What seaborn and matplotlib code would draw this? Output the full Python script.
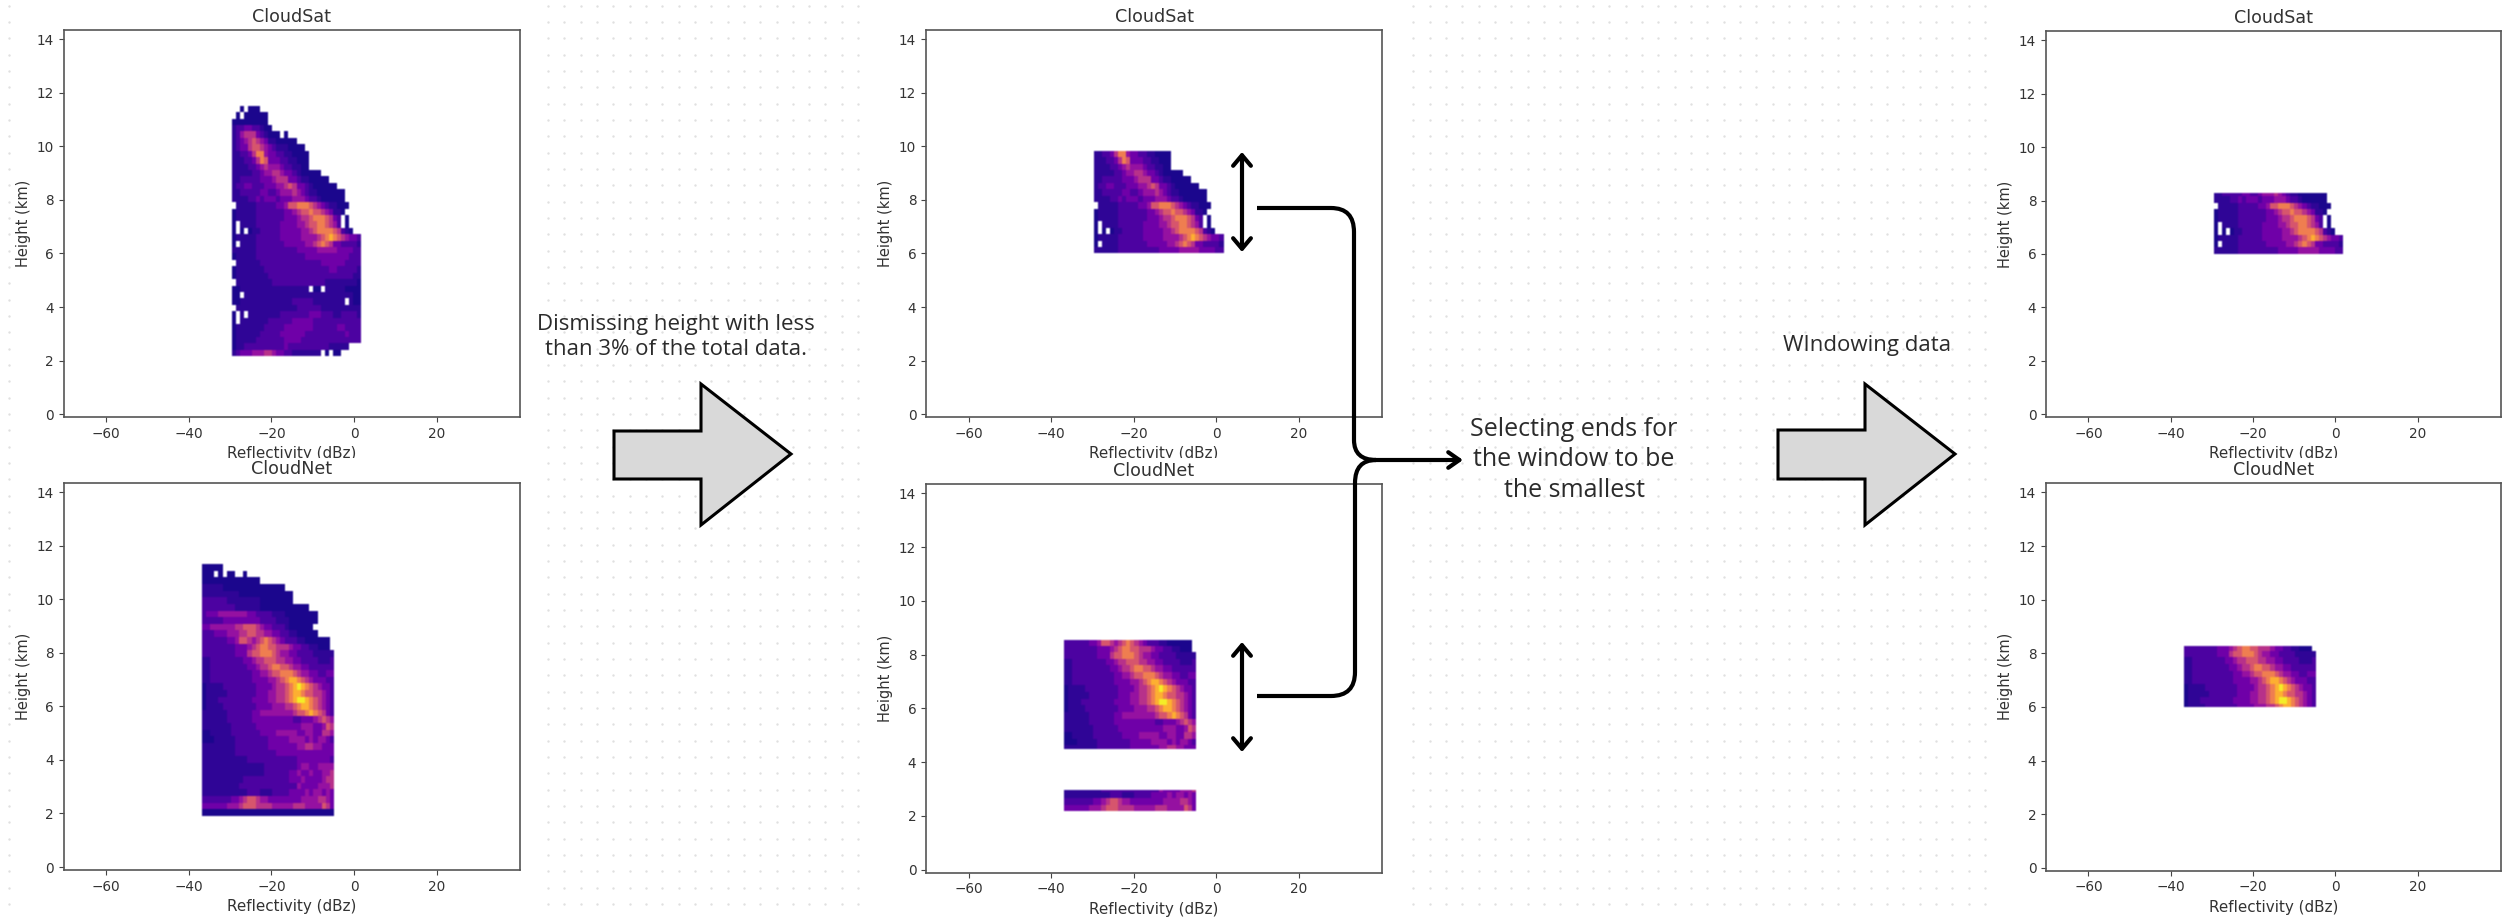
import numpy as np
import pandas as pd
import matplotlib
matplotlib.use("Agg")
import matplotlib.pyplot as plt
import seaborn as sns
from matplotlib.patches import PathPatch, Polygon, FancyArrowPatch, Rectangle
from matplotlib.path import Path
from matplotlib.transforms import Bbox

# Levels, top row first, one digit per 1 dBZ cell ('.' = empty)
cloudsat_rows = [
    "..0.000",
    ".0.000000",
    "000000000",
    "1223322100",
    "124555321000.0",
    "1234565431100000",
    "123356654321110000",
    "1122357743322110000",
    "1112235763332211000",
    "1111223454443221100",
    "1111122344554332100000",
    "112222233345553321100000",
    "12233222333445653321000000",
    "1122222332234445432110000000",
    "1111223233323334443221000000",
    ".1111122222334667776543211000",
    "0111112222222334566766543110.",
    "011111222222233345567776532.0",
    "0.1111222222333344566776542.0",
    "0.0.01122222333334456777765210",
    "01111122222233333444456787654332",
    "0.111122222223333344567653322221",
    "11111122222222223333344444333322",
    "01111122222222222233333333333222",
    ".1111112222222222222223333332222",
    "01111111222222222222222233222221",
    "01111111122222222222222222222211",
    ".1111111112222222222222111111110",
    "0011111111111111111.00.111110000",
    "00.11111111111111111111111111100",
    "0011111111111112222211111111.100",
    ".1111111111111112222221111111111",
    "0.1.1111111122222223332221122221",
    "0.111111122222233333222222222222",
    "01111111222223333333222222332222",
    "01111112222233333322222222223222",
    "01111122222223333222222222222222",
    "01122222222223222222222211111",
    "1233344455433221111111.0.00",
]
cloudnet_rows = [
    "00000",
    "000.0.00..0",
    "00000000000000",
    "11111000000000000000",
    "1111111110000000000000",
    "2222221111111100000000",
    "22222222111111000000000000",
    "2333444444433222211100000000",
    "2222233333333322221110000000",
    "334444445566654332221000000",
    "2223334445566554433221100000",
    "2222223346654567654322211000000",
    "2222222233345677665554332211000",
    "22222222333566777654433222211111",
    "11222222223345566655443322221112",
    "11222222222334556776654433222222",
    "11222222222233445667776544332233",
    "11222222222233334456788765433322",
    "01111222222223333455678987654332",
    "01111122222223334455678876655432",
    "01112222222233334455678998765432",
    "01111222222223333444556788765432",
    "11111122222233444444445667876532",
    "11111122222233333333332233345654",
    "11111112222223333333333344433465",
    "00111112222222333344444334433554",
    "00011111222222223333344443434432",
    "11111111222222223333333445544333",
    "11111111222222222233333333333333",
    "11111111111222222222222333333332",
    "11111111111111122222222344334444",
    "11111111111111122222233433433445",
    "11111111112222222222233343333455",
    "11111111122222222222222433334445",
    "11111111111222111222233334344343",
    "22222223345665443333333344445543",
    "33333344456665555444445554444653",
    "00000000000000000000000000000000",
]
cloudsat_x_range = (-29.6, 1.8)
cloudnet_x_range = (-36.8, -4.8)
cloudsat_y_range = (2.16, 11.52)
cloudnet_y_range = (1.91, 11.31)

# Height windows kept at each step
cloudsat_windows = [[(2.16, 11.52)], [(6.0, 9.84)], [(6.0, 8.28)]]
cloudnet_windows = [[(1.91, 11.31)], [(4.49, 8.53), (2.18, 2.96)], [(6.0, 8.26)]]

x_ticks = [-60, -40, -20, 0, 20]
y_ticks = [0, 2, 4, 6, 8, 10, 12, 14]

W, H = 2504, 919
sns.set_style("ticks")
plt.rcParams["font.family"] = "DejaVu Sans"
plt.rcParams["text.color"] = "#333333"
plt.rcParams["axes.labelcolor"] = "#333333"
plt.rcParams["xtick.labelcolor"] = "#333333"
plt.rcParams["ytick.labelcolor"] = "#333333"


def soften(img, dpi):
    # the reference is a blurry screenshot, so smooth the cells a little
    img = np.pad(img, ((1, 1), (1, 1), (0, 0)))
    rgb, a = img[..., :3] * img[..., 3:], img[..., 3:]
    for axis in (0, 1):
        rgb = (np.roll(rgb, 1, axis) + 2 * rgb + np.roll(rgb, -1, axis)) / 4
        a = (np.roll(a, 1, axis) + 2 * a + np.roll(a, -1, axis)) / 4
    return np.dstack([rgb / np.maximum(a, 1e-3), a]), -1, -1


def to_frame(rows, x_range, y_range):
    x_edges = np.linspace(x_range[0], x_range[1], 33)
    y_edges = np.round(np.linspace(y_range[0], y_range[1], len(rows) + 1), 3)
    cells = []
    for i, row in enumerate(rows[::-1]):
        for j, ch in enumerate(row.ljust(32, ".")[:32]):
            if ch != ".":
                cells.append((x_edges[j] + 0.01, y_edges[i], y_edges[i + 1],
                              0.02 + (int(ch) / 9) ** 1.45 * 0.95))
    return pd.DataFrame(cells, columns=["x", "low", "top", "level"]), x_edges, y_edges


def draw_window(ax, df, x_edges, y_edges, lo, hi):
    part = df[(df["top"] > lo) & (df["low"] < hi)].copy()
    part["y"] = ((part["low"] + part["top"]) / 2).clip(lo + 1e-6, hi - 1e-6)
    sns.histplot(data=part, x="x", y="y", weights="level",
                 bins=(x_edges, np.unique(np.clip(y_edges, lo, hi))),
                 cmap="plasma", vmin=0, vmax=1, cbar=False, ax=ax)
    ax.collections[-1].set_agg_filter(soften)


def panel(box, title, frame, windows, clip_label=False):
    l, t, r, b = box
    ax = fig.add_axes([l / W, 1 - b / H, (r - l) / W, (b - t) / H], zorder=2)
    df, x_edges, y_edges = frame
    for lo, hi in windows:
        draw_window(ax, df, x_edges, y_edges, lo, hi)
    ax.set_xlim(-70.3, 40.2)
    ax.set_ylim(-0.11, 14.35)
    ax.set_xticks(x_ticks)
    ax.set_yticks(y_ticks)
    ax.tick_params(labelsize=9.8, color="#444444")
    ax.set_title(title, fontsize=12.6, color="#333333")
    ax.set_xlabel("Reflectivity (dBz)", fontsize=10.9)
    ax.set_ylabel("Height (km)", fontsize=10.5)
    for s in ax.spines.values():
        s.set_visible(True)
        s.set_color("#555555")
        s.set_linewidth(1.2)
    if clip_label:
        ax.xaxis.label.set_clip_box(Bbox([[0, H - 458], [W, H]]))
        ax.xaxis.label.set_clip_on(True)
    return ax


fig = plt.figure(figsize=(W / 100, H / 100), dpi=100, facecolor="white")

# dotted page behind the pasted plots
bg = fig.add_axes([0, 0, 1, 1], zorder=0)
bg.set_xlim(0, W)
bg.set_ylim(H, 0)
bg.axis("off")
gx, gy = np.meshgrid(np.arange(9, W, 16.33), np.arange(5.7, H, 16.33))
bg.scatter(gx.ravel(), gy.ravel(), s=3, color="#e0e0e0", linewidths=0)
for l, r in [(15, 541), (865, 1405), (1990, W)]:
    bg.add_patch(Rectangle((l, 0), r - l, H, color="white", zorder=3))

cloudsat = to_frame(cloudsat_rows, cloudsat_x_range, cloudsat_y_range)
cloudnet = to_frame(cloudnet_rows, cloudnet_x_range, cloudnet_y_range)

panel((63.6, 30, 520, 417), "CloudSat", cloudsat, cloudsat_windows[0], True)
panel((63.6, 482.7, 520, 870), "CloudNet", cloudnet, cloudnet_windows[0])
panel((926, 30, 1382, 417), "CloudSat", cloudsat, cloudsat_windows[1], True)
panel((926, 484, 1382, 872.7), "CloudNet", cloudnet, cloudnet_windows[1])
panel((2046, 31, 2501, 417), "CloudSat", cloudsat, cloudsat_windows[2], True)
panel((2046, 483, 2501, 870.7), "CloudNet", cloudnet, cloudnet_windows[2])

# annotation layer in pixel coordinates
top = fig.add_axes([0, 0, 1, 1], zorder=5)
top.set_xlim(0, W)
top.set_ylim(H, 0)
top.axis("off")
top.patch.set_alpha(0)

for pts in [
    [(614, 431), (701, 431), (701, 384), (791, 454), (701, 525), (701, 479), (614, 479)],
    [(1778, 430), (1865, 430), (1865, 384), (1955, 454), (1865, 525), (1865, 479), (1778, 479)],
]:
    top.add_patch(Polygon(pts, closed=True, facecolor="#d9d9d9", edgecolor="black",
                          linewidth=2.2, joinstyle="miter"))

text_font = ["Open Sans", "DejaVu Sans"]
top.text(676, 337, "Dismissing height with less\nthan 3% of the total data.", ha="center", va="center",
         fontsize=16, family=text_font, color="#2b2b2b", linespacing=1.22)
top.text(1574, 460, "Selecting ends for\nthe window to be\nthe smallest", ha="center", va="center",
         fontsize=18, family=text_font, color="#2b2b2b", linespacing=1.28)
top.text(1867, 346, "WIndowing data", ha="center", va="center",
         fontsize=16, family=text_font, color="#2b2b2b")

# connector from the two height arrows into the selecting text
C3 = Path.CURVE3
M, L = Path.MOVETO, Path.LINETO
upper = Path([(1257, 208), (1331, 208), (1354, 208), (1354, 232), (1354, 440), (1354, 460), (1376, 460)],
             [M, L, C3, C3, L, C3, C3])
lower = Path([(1257, 696), (1331, 696), (1355, 696), (1355, 672), (1355, 483), (1355, 460), (1376, 460)],
             [M, L, C3, C3, L, C3, C3])
for p in [upper, lower]:
    top.add_patch(PathPatch(p, facecolor="none", edgecolor="black", linewidth=3, capstyle="butt"))
top.add_patch(FancyArrowPatch((1370, 460), (1463, 460), arrowstyle="->,head_length=0.4,head_width=0.28",
                              mutation_scale=20, linewidth=3, color="black", shrinkA=0, shrinkB=0))
for y0, y1 in [(152, 252), (642, 752)]:
    top.add_patch(FancyArrowPatch((1242, y0), (1242, y1), arrowstyle="<->,head_length=0.38,head_width=0.32",
                                  mutation_scale=20, linewidth=3, color="black", shrinkA=0, shrinkB=0))

fig.savefig("out.png", dpi=100, facecolor="white")
